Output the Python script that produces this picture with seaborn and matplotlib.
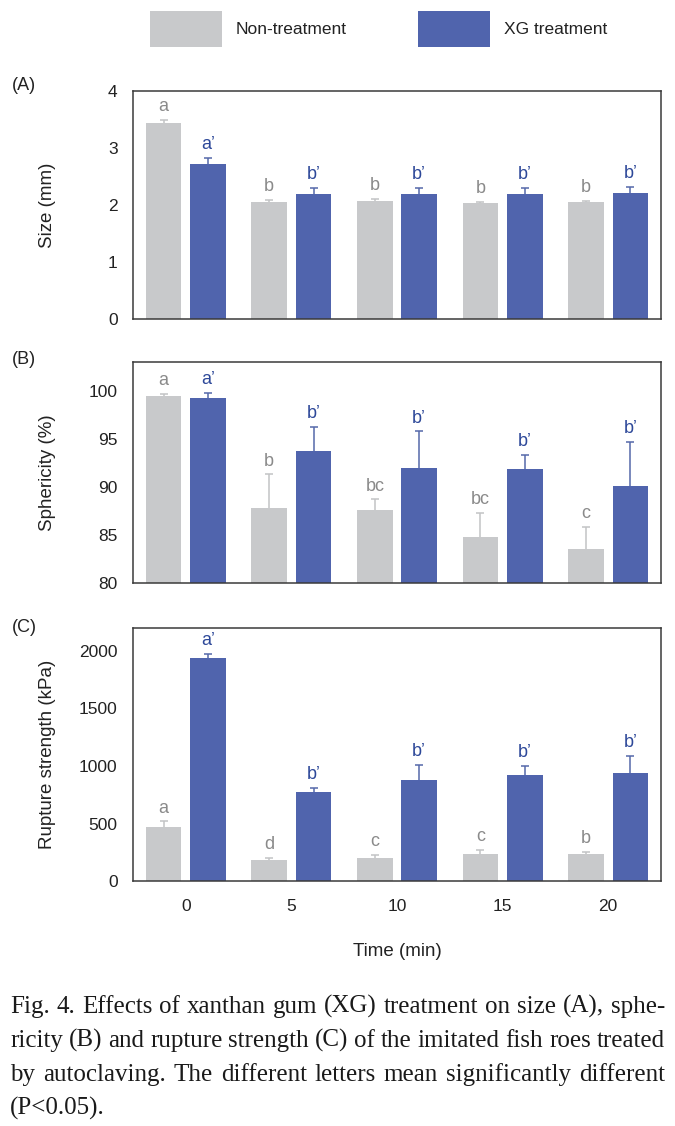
import numpy as np
import pandas as pd
import matplotlib
matplotlib.use('Agg')
import matplotlib.pyplot as plt
import seaborn as sns
from matplotlib.patches import Patch

# ---------------- data ----------------
times = ['0', '5', '10', '15', '20']
groups = ['Non-treatment', 'XG treatment']

size_non = [3.44, 2.05, 2.07, 2.04, 2.05]
size_non_err = [0.06, 0.04, 0.04, 0.02, 0.02]
size_xg = [2.72, 2.195, 2.195, 2.195, 2.21]
size_xg_err = [0.10, 0.11, 0.11, 0.11, 0.11]
size_non_letters = ['a', 'b', 'b', 'b', 'b']
size_xg_letters = ['a’', 'b’', 'b’', 'b’', 'b’']

sph_non = [99.45, 87.8, 87.55, 84.8, 83.5]
sph_non_err = [0.25, 3.5, 1.15, 2.5, 2.3]
sph_xg = [99.3, 93.7, 91.98, 91.85, 90.1]
sph_xg_err = [0.45, 2.5, 3.8, 1.45, 4.6]
sph_non_letters = ['a', 'b', 'bc', 'bc', 'c']
sph_xg_letters = ['a’', 'b’', 'b’', 'b’', 'b’']

rup_non = [472, 182, 200, 234, 237]
rup_non_err = [46, 15, 23, 35, 15]
rup_xg = [1939, 770, 874, 918, 938]
rup_xg_err = [38, 40, 139, 83, 150]
rup_non_letters = ['a', 'd', 'c', 'c', 'b']
rup_xg_letters = ['a’', 'b’', 'b’', 'b’', 'b’']

caption_lines = [
    "Fig. 4. Effects of xanthan gum (XG) treatment on size (A), sphe-",
    "ricity (B) and rupture strength (C) of the imitated fish roes treated",
    "by autoclaving. The different letters mean significantly different",
    "(P<0.05).",
]

# ---------------- style ----------------
GRAY = '#c8c9cb'
BLUE = '#5064ad'
GRAY_ERR = '#c2c3c5'
BLUE_ERR = '#5568aa'
GRAY_TXT = '#8a8a8a'
BLUE_TXT = '#2d4899'
SPINE = '#3a3a3a'

sns.set_style('white')
plt.rcParams['font.family'] = ['Liberation Sans', 'DejaVu Sans']

W, H = 675, 1126
fig = plt.figure(figsize=(W / 100, H / 100), dpi=100)

L = 133 / W
AW = (661 - 133) / W


def axes_box(top, bottom):
    return [L, 1 - bottom / H, AW, (bottom - top) / H]


def panel(ax, non, non_err, xg, xg_err, nl, xl, ylim, yticks, ylabel, show_x):
    df = pd.DataFrame({
        'Time': times * 2,
        'Group': [groups[0]] * len(times) + [groups[1]] * len(times),
        'Value': non + xg,
    })
    sns.barplot(data=df, x='Time', y='Value', hue='Group', order=times,
                hue_order=groups, palette=[GRAY, BLUE], saturation=1,
                errorbar=None, width=0.84, gap=0.2, linewidth=0,
                legend=False, ax=ax)
    for p in ax.patches:
        p.set_zorder(2)
    for cont, err, letters, ecol, tcol in zip(
            ax.containers, [non_err, xg_err], [nl, xl],
            [GRAY_ERR, BLUE_ERR], [GRAY_TXT, BLUE_TXT]):
        xs = [p.get_x() + p.get_width() / 2 for p in cont.patches]
        hs = [p.get_height() for p in cont.patches]
        _, caps, _ = ax.errorbar(xs, hs, yerr=[np.zeros(len(err)), err],
                                 fmt='none', ecolor=ecol, elinewidth=1.1,
                                 capsize=3, capthick=1.1, zorder=1)
        # hide the lower caps (they sit on the bar tops)
        for c in caps:
            if np.allclose(c.get_ydata(), hs):
                c.set_visible(False)
        for x, h, e, lab in zip(xs, hs, err, letters):
            ax.annotate(lab, (x, h + e), xytext=(0, 3.5),
                        textcoords='offset points', ha='center',
                        va='bottom', color=tcol, fontsize=13)
    ax.set_ylim(*ylim)
    ax.set_yticks(yticks)
    ax.set_xlim(-0.5, len(times) - 0.5)
    ax.set_ylabel(ylabel, fontsize=13.5, color='#222222')
    ax.yaxis.set_label_coords(-0.145, 0.5)
    ax.tick_params(axis='y', direction='in', length=6.5, width=1,
                   color=SPINE, pad=11, labelsize=12.5, labelcolor='#222222')
    ax.tick_params(axis='x', length=0, pad=13, labelsize=12.5,
                   labelcolor='#222222')
    if show_x:
        ax.set_xlabel('Time (min)', fontsize=13.5, color='#222222')
        ax.xaxis.set_label_coords(0.5, -0.245)
    else:
        ax.set_xticklabels([])
        ax.set_xlabel('')
    for s in ax.spines.values():
        s.set_visible(True)
        s.set_color(SPINE)
        s.set_linewidth(1.1)
        s.set_zorder(3)


axA = fig.add_axes(axes_box(91, 319))
axB = fig.add_axes(axes_box(362, 583))
axC = fig.add_axes(axes_box(628, 881))

panel(axA, size_non, size_non_err, size_xg, size_xg_err,
      size_non_letters, size_xg_letters, (0, 4), [0, 1, 2, 3, 4],
      'Size (mm)', False)
panel(axB, sph_non, sph_non_err, sph_xg, sph_xg_err,
      sph_non_letters, sph_xg_letters, (80, 103), [80, 85, 90, 95, 100],
      'Sphericity (%)', False)
panel(axC, rup_non, rup_non_err, rup_xg, rup_xg_err,
      rup_non_letters, rup_xg_letters, (0, 2200), [0, 500, 1000, 1500, 2000],
      'Rupture strength (kPa)', True)

# panel labels
for lab, ypx in [('(A)', 85), ('(B)', 360), ('(C)', 627)]:
    fig.text(12 / W, 1 - ypx / H, lab, fontsize=13, va='center', ha='left',
             color='#222222')

# legend
fs_leg = 12.5
fpx = fs_leg * 100 / 72
hh = (36 / fpx - 0.245) / 0.65
fig.legend(handles=[Patch(facecolor=GRAY, edgecolor='none', label=groups[0]),
                    Patch(facecolor=BLUE, edgecolor='none', label=groups[1])],
           ncol=2, loc='upper left', bbox_to_anchor=(150 / W, 1 - 11 / H),
           frameon=False, fontsize=fs_leg, handlelength=72 / fpx,
           handleheight=hh, handletextpad=14 / fpx,
           columnspacing=4.1, borderpad=0, borderaxespad=0,
           labelcolor='#222222')

# caption (justified)
renderer = fig.canvas.get_renderer()
left_px, right_px = 10, 665
baselines = [1013, 1047, 1081, 1115]
cap_kw = dict(fontsize=18, family=['Liberation Serif', 'DejaVu Serif'],
              va='baseline', ha='left', color='#1a1a1a')
for i, (line, base) in enumerate(zip(caption_lines, baselines)):
    y = 1 - base / H
    if i == len(caption_lines) - 1:
        fig.text(left_px / W, y, line, **cap_kw)
        continue
    words = line.split(' ')
    texts = [fig.text(0, y, w, **cap_kw) for w in words]
    widths = [t.get_window_extent(renderer).width for t in texts]
    gap = (right_px - left_px - sum(widths)) / (len(words) - 1)
    x = left_px
    for t, wd in zip(texts, widths):
        t.set_x(x / W)
        x += wd + gap

fig.savefig('out.png', dpi=100)
